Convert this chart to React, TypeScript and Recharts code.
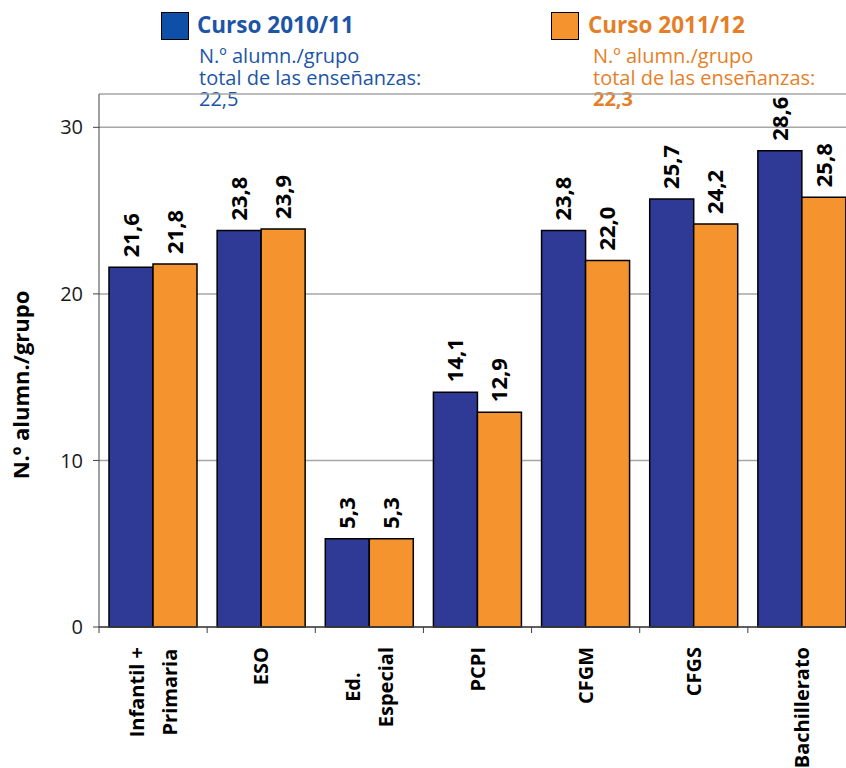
import React from 'react'
import { BarChart, Bar, XAxis, YAxis, CartesianGrid, LabelList } from 'recharts'

// categories ("\n" = line break in the axis label)
const categories = ['Infantil +\nPrimaria', 'ESO', 'Ed.\nEspecial', 'PCPI', 'CFGM', 'CFGS', 'Bachillerato']
const curso1011 = [21.6, 23.8, 5.3, 14.1, 23.8, 25.7, 28.6]
const curso1112 = [21.8, 23.9, 5.3, 12.9, 22.0, 24.2, 25.8]
const seriesNames = ['Curso 2010/11', 'Curso 2011/12']
const seriesTotals = [22.5, 22.3]
const totalText = ['N.º alumn./grupo', 'total de las enseñanzas:']
const yTicks = [0, 10, 20, 30]
const yTitle = 'N.º alumn./grupo'

const data = categories.map((name, i) => ({ name, a: curso1011[i], b: curso1112[i] }))

const FONT = '"Open Sans", sans-serif'
const BAR_BLUE = '#2e3a96'
const BAR_ORANGE = '#f5942f'
const AXIS = '#404040'
const CAT_SIZE = 20

const W = 870
const H = 768
const MARGIN = { top: 94, right: 14, left: 0, bottom: 0 }
const Y_W = 99
const BAND = (W - Y_W - MARGIN.right) / categories.length

const fmt = (v: number) => v.toFixed(1).replace('.', ',')

const ctx = typeof document !== 'undefined' ? document.createElement('canvas').getContext('2d') : null
const measure = (s: string, font: string) => {
  if (!ctx) return s.length * 11
  ctx.font = font
  return ctx.measureText(s).width
}

const CategoryTick = (props: any) => {
  const { x, y, payload } = props
  const lines = String(payload.value).split('\n')
  const maxLen = Math.max(...lines.map((l) => measure(l, `bold ${CAT_SIZE}px ${FONT}`)))
  const mid = y + 20 + maxLen / 2
  return (
    <g>
      <line x1={x - BAND / 2} x2={x - BAND / 2} y1={y} y2={y + 6} stroke={AXIS} />
      {lines.map((l, i) => (
        <text
          key={i}
          transform={`translate(${x + (i - (lines.length - 1) / 2) * 33},${mid}) rotate(-90)`}
          textAnchor="middle"
          dy="0.35em"
          fontFamily={FONT}
          fontWeight={700}
          fontSize={CAT_SIZE}
          fill="#000"
        >
          {l}
        </text>
      ))}
    </g>
  )
}

const ValueLabel = (props: any) => {
  const { x, y, width, value } = props
  return (
    <text
      transform={`translate(${x + width / 2},${y - 10}) rotate(-90)`}
      textAnchor="start"
      dy="0.35em"
      fontFamily={FONT}
      fontWeight={700}
      fontSize={22}
      fill="#000"
    >
      {fmt(value)}
    </text>
  )
}

const legendLayout = [
  { box: 161, title: 197, sub: 199, boxFill: '#0e4fa7', color: '#1c55a6', boldTotal: false },
  { box: 551, title: 588, sub: 593, boxFill: '#f5932e', color: '#e57f27', boldTotal: true },
]

export default function App() {
  return (
    <div style={{ position: 'absolute', left: 0, top: 0, width: 846, height: 768, overflow: 'hidden', background: '#fff', fontFamily: FONT }}>
      {seriesNames.map((name, i) => {
        const l = legendLayout[i]
        return (
          <React.Fragment key={name}>
            <div style={{ position: 'absolute', left: l.box, top: 12, width: 26, height: 26, background: l.boxFill, border: '1.5px solid #000' }} />
            <div style={{ position: 'absolute', left: l.title, top: 14, fontSize: 22.5, lineHeight: '22px', fontWeight: 700, color: l.color, whiteSpace: 'nowrap' }}>
              {name}
            </div>
            <div style={{ position: 'absolute', left: l.sub, top: 45, fontSize: 20, lineHeight: '21.5px', color: l.color, whiteSpace: 'nowrap' }}>
              {totalText.map((t) => (
                <div key={t}>{t}</div>
              ))}
              <div style={{ fontWeight: l.boldTotal ? 700 : 400 }}>{fmt(seriesTotals[i])}</div>
            </div>
          </React.Fragment>
        )
      })}
      <BarChart width={W} height={H} data={data} margin={MARGIN} barCategoryGap={10} barGap={0}>
        <CartesianGrid vertical={false} stroke="#a6a6a6" strokeWidth={1.5} />
        <XAxis
          dataKey="name"
          height={H - 627}
          interval={0}
          tickSize={0}
          tickMargin={0}
          tick={<CategoryTick />}
          axisLine={{ stroke: AXIS, strokeWidth: 1.5 }}
        />
        <YAxis
          width={Y_W}
          domain={[0, 32]}
          ticks={yTicks}
          interval={0}
          tickSize={6}
          tickMargin={10}
          axisLine={{ stroke: AXIS }}
          tickLine={{ stroke: AXIS }}
          tick={{ fontFamily: FONT, fontSize: 20, fill: '#1a1a1a' }}
          label={{
            content: () => (
              <text
                transform="translate(21,385) rotate(-90)"
                textAnchor="middle"
                dy="0.35em"
                fontFamily={FONT}
                fontWeight={700}
                fontSize={22}
                fill="#000"
              >
                {yTitle}
              </text>
            ),
          }}
        />
        <Bar dataKey="a" name={seriesNames[0]} fill={BAR_BLUE} stroke="#000" strokeWidth={1.5} isAnimationActive={false}>
          <LabelList dataKey="a" content={<ValueLabel />} />
        </Bar>
        <Bar dataKey="b" name={seriesNames[1]} fill={BAR_ORANGE} stroke="#000" strokeWidth={1.5} isAnimationActive={false}>
          <LabelList dataKey="b" content={<ValueLabel />} />
        </Bar>
      </BarChart>
    </div>
  )
}
